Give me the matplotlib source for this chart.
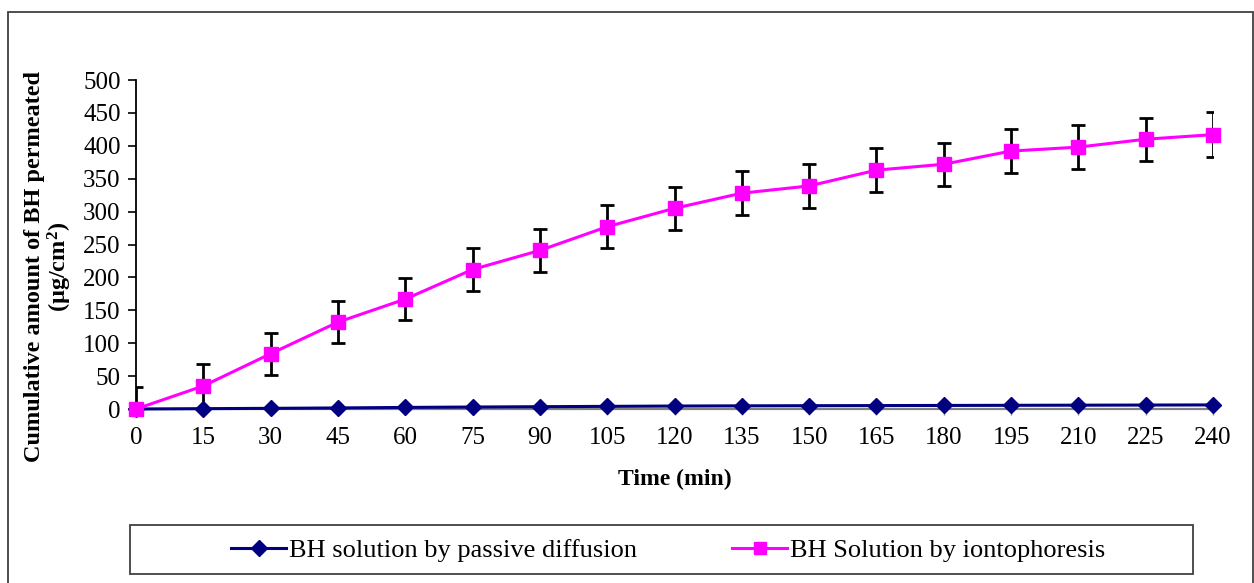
import matplotlib.pyplot as plt
from matplotlib.patches import Rectangle
from matplotlib.lines import Line2D

time_min = [0, 15, 30, 45, 60, 75, 90, 105, 120, 135, 150, 165, 180, 195, 210, 225, 240]

passive = [0, 0.5, 1.0, 1.6, 2.4, 3.0, 3.5, 4.0, 4.5, 4.8, 5.0, 5.2, 5.4, 5.6, 5.8, 6.0, 6.2]
passive_err = [0.5, 1.0, 1.2, 1.5, 2.0, 2.2, 2.5, 2.5, 2.8, 2.8, 3.0, 3.0, 3.0, 3.2, 3.2, 3.4, 3.4]

ionto = [0, 35, 84, 132, 167, 212, 241, 277, 305, 328, 339, 363, 372, 392, 398, 410, 417]
ionto_err = [33, 33, 32, 32, 32, 33, 33, 33, 33, 33, 33, 33, 33, 33, 33, 33, 34]

W, H = 1254, 583
MAGENTA = "#ff00ff"
NAVY = "#000080"
FRAME = "#404040"

plt.rcParams.update({
    "font.family": ["Liberation Serif", "DejaVu Serif"],
    "mathtext.fontset": "custom",
    "mathtext.rm": "Liberation Serif",
    "mathtext.bf": "Liberation Serif:bold",
})

fig = plt.figure(figsize=(W / 100, H / 100), dpi=100)
ax = fig.add_axes([136 / W, (H - 409) / H, (1213 - 136) / W, (409 - 80) / H])

# error bars are clipped at the axis, the markers are not
ax.errorbar(time_min, passive, yerr=passive_err, fmt="none", ecolor="black",
            elinewidth=1.5, capsize=0, zorder=2)
ax.errorbar(time_min, ionto, yerr=ionto_err, fmt="none", ecolor="black",
            elinewidth=2.0, capsize=5, capthick=2.0, zorder=2)
ax.plot(time_min, passive, color=NAVY, marker="D", markersize=8,
        linewidth=2.2, clip_on=False, zorder=3)
ax.plot(time_min, ionto, color=MAGENTA, marker="s", markersize=10,
        linewidth=2.2, clip_on=False, zorder=4)

ax.set_xlim(0, 240)
ax.set_ylim(0, 500)
ax.set_xticks(time_min)
ax.set_yticks(range(0, 501, 50))
ax.tick_params(axis="both", labelsize=18, direction="out", color="black")
ax.tick_params(axis="y", length=6, width=1.2, pad=5)
ax.tick_params(axis="x", length=4, width=1.0, pad=9, color="#808080")
for side in ("top", "right"):
    ax.spines[side].set_visible(False)
ax.spines["left"].set_linewidth(1.3)
ax.spines["bottom"].set_color("#808080")
ax.spines["bottom"].set_linewidth(1.6)

ax.set_xlabel("Time (min)", fontsize=17, fontweight="bold", labelpad=14)
fig.text(49 / W, 1 - 267 / H,
         "Cumulative amount of BH permeated\n(µg/cm$\\mathbf{^2}$)",
         rotation=90, ha="center", va="center", multialignment="center",
         fontsize=17.5, fontweight="bold", linespacing=1.0)

# legend box drawn separately so its padding can match the original
handles = [
    Line2D([], [], color=NAVY, marker="D", markersize=8, linewidth=2.2),
    Line2D([], [], color=MAGENTA, marker="s", markersize=9, linewidth=2.2),
]
fig.legend(handles, ["BH solution by passive diffusion", "BH Solution by iontophoresis"],
           loc="center", bbox_to_anchor=(668 / W, 1 - 550 / H), ncol=2,
           fontsize=19, frameon=False, handlelength=2.1, handletextpad=0.1,
           columnspacing=3.6)
fig.patches.append(Rectangle((130 / W, 1 - 574 / H), (1193 - 130) / W, 49 / H,
                             transform=fig.transFigure, fill=False,
                             edgecolor=FRAME, linewidth=1.3))

fig.patches.append(Rectangle((8 / W, -0.05), (1253 - 8) / W, (H - 12) / H + 0.05,
                             transform=fig.transFigure, fill=False,
                             edgecolor=FRAME, linewidth=1.3))

fig.savefig("out.png", dpi=100)
